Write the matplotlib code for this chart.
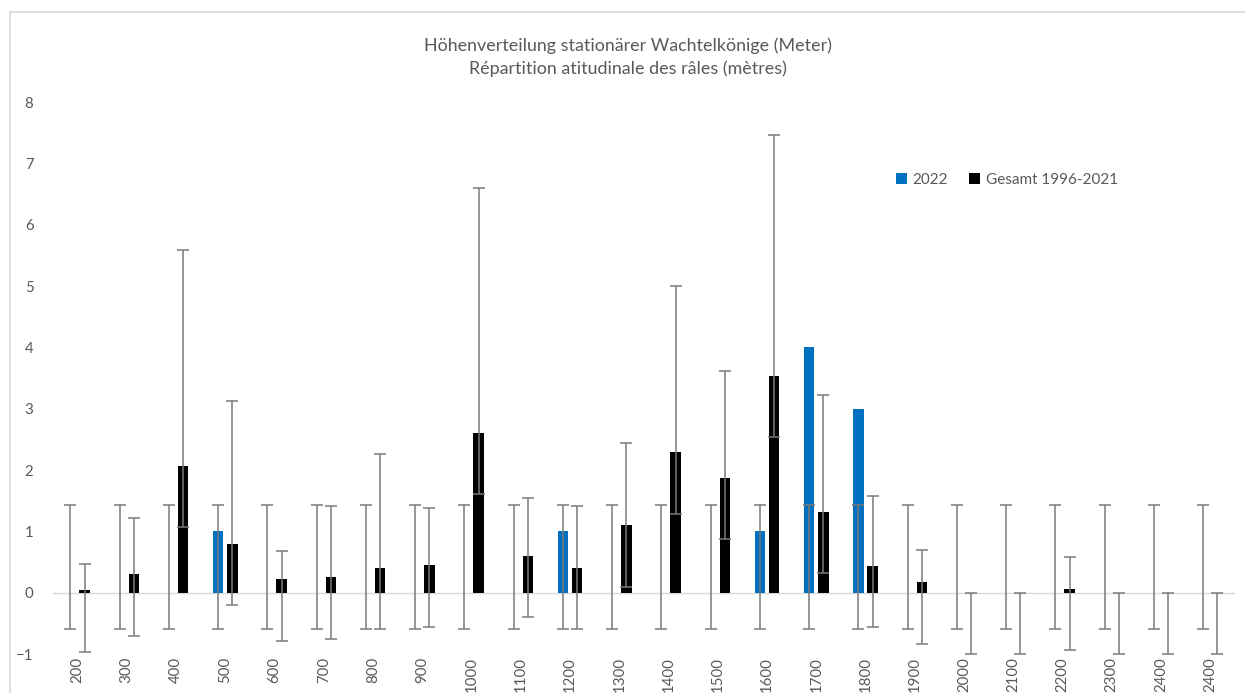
import matplotlib
matplotlib.use("Agg")
import matplotlib.pyplot as plt
from matplotlib.lines import Line2D
from matplotlib.patches import Patch
import numpy as np

plt.rcParams['font.family'] = ['Lato', 'DejaVu Sans']

# ---- data ----
categories = ["200", "300", "400", "500", "600", "700", "800", "900", "1000",
              "1100", "1200", "1300", "1400", "1500", "1600", "1700", "1800",
              "1900", "2000", "2100", "2200", "2300", "2400", "2400"]
values_2022 = [0, 0, 0, 1, 0, 0, 0, 0, 0, 0, 1, 0, 0, 0, 1, 4, 3, 0, 0, 0, 0, 0, 0, 0]
values_total = [0.04, 0.30, 2.07, 0.80, 0.22, 0.25, 0.41, 0.445, 2.61, 0.60, 0.41,
                1.10, 2.29, 1.87, 3.53, 1.32, 0.44, 0.17, 0, 0, 0.06, 0, 0, 0]
err_up_total = [0.43, 0.92, 3.52, 2.33, 0.46, 1.16, 1.85, 0.93, 3.98, 0.94, 1.00,
                1.34, 2.71, 1.74, 3.94, 1.90, 1.14, 0.53, 0, 0, 0.52, 0, 0, 0]
err_down_total = [1.0] * 24
# 2022 error bars (Excel standard-deviation style, same span at every category)
err_2022_low = -0.60
err_2022_high = 1.43

label_2022 = "2022"
label_total = "Gesamt 1996-2021"
title = "Höhenverteilung stationärer Wachtelkönige (Meter)\nRépartition atitudinale des râles (mètres)"

# ---- figure ----
W, H = 1245, 693
fig = plt.figure(figsize=(W / 100, H / 100), dpi=100)
ax = fig.add_axes([52.9 / W, 1 - 654 / H, (1234.9 - 52.9) / W, (654 - 102) / H])

x = np.arange(len(categories))
off = 0.145
bw = 0.21
blue = "#0070C0"
errc = "#7a7a7a"

ax.bar(x - off, values_2022, width=bw, color=blue, zorder=2)
ax.bar(x + off, values_total, width=bw, color="black", zorder=2)

mid_2022 = (err_2022_low + err_2022_high) / 2
half_2022 = (err_2022_high - err_2022_low) / 2
ax.errorbar(x - off, [mid_2022] * len(x), yerr=half_2022, fmt="none",
            ecolor=errc, elinewidth=1.1, capsize=4, capthick=1.1, zorder=3)
ax.errorbar(x + off, values_total, yerr=[err_down_total, err_up_total], fmt="none",
            ecolor=errc, elinewidth=1.1, capsize=4, capthick=1.1, zorder=3)

ax.axhline(0, color="#d9d9d9", lw=1.0, zorder=1)

ax.set_xlim(-0.5, len(categories) - 0.5)
ax.set_ylim(-1, 8)
ax.set_yticks(range(-1, 9))
ax.set_xticks(x)
ax.set_xticklabels(categories, rotation=90, va="top", ha="center")
for s in ax.spines.values():
    s.set_visible(False)
ax.tick_params(axis="both", length=0, colors="#595959", labelsize=10.8)
ax.tick_params(axis="y", pad=14)
ax.tick_params(axis="x", pad=2)

fig.text(628 / W, 1 - 57.5 / H, title, ha="center", va="center", fontsize=12.9,
         color="#595959", linespacing=1.45)

handles = [Patch(facecolor=blue, edgecolor="none"), Patch(facecolor="black", edgecolor="none")]
fig.legend(handles, [label_2022, label_total], loc="center left",
           bbox_to_anchor=(896 / W, 1 - 180 / H), ncol=2, frameon=False,
           fontsize=11, labelcolor="#595959", handlelength=0.72, handleheight=0.72,
           handletextpad=0.35, columnspacing=1.4, borderpad=0, borderaxespad=0)

# chart area border
bc = "#d9d9d9"
fig.add_artist(Line2D([10 / W, 10 / W], [0, 1 - 12 / H], color=bc, lw=1.2, transform=fig.transFigure))
fig.add_artist(Line2D([10 / W, 1], [1 - 12 / H, 1 - 12 / H], color=bc, lw=1.2, transform=fig.transFigure))

fig.savefig("out.png", dpi=100)
